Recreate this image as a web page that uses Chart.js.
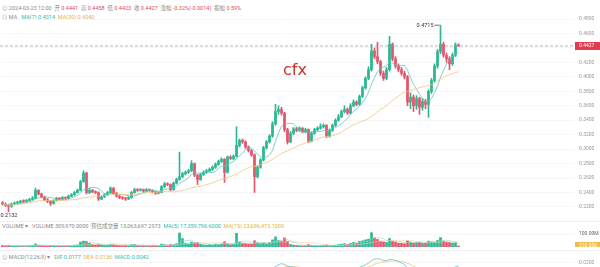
<!DOCTYPE html>
<html>
<head>
<meta charset="utf-8">
<script src="https://cdn.jsdelivr.net/npm/chart.js@4.4.1/dist/chart.umd.min.js"></script>
<style>
  body { margin: 0; width: 600px; height: 267px; overflow: hidden; background: #fff; position: relative;
         font-family: Roboto, "Noto Sans CJK SC", sans-serif; }
  canvas { position: absolute; left: 0; }
  .txt { position: absolute; font-size: 5.5px; color: #8a8a8a; white-space: nowrap; line-height: 6px; }
  .red { color: #e0475b; }
  .teal { color: #33b8a8; }
  .yel { color: #e8b23a; }
  .sep { position: absolute; left: 0; width: 600px; border-top: 1px solid #eeeeee; }
  #mark { position: absolute; left: 283px; top: 60px; font-size: 16px; color: #c9302c; font-family: "DejaVu Sans", sans-serif; }
</style>
</head>
<body>
<div class="txt" style="left:2px;top:5px">⊙ 2024-03-23 12:00 &nbsp;开 <span class="red">0.4441</span> &nbsp;高 <span class="red">0.4458</span> &nbsp;低 <span class="red">0.4423</span> &nbsp;收 <span class="red">0.4427</span> &nbsp;涨幅 <span class="red">-0.32%(-0.0014)</span> &nbsp;振幅 <span class="red">0.59%</span></div>
<div class="txt" style="left:2px;top:14px">⊙ MA &nbsp; <span class="teal">MA(7) 0.4314</span> &nbsp;<span class="yel">MA(30) 0.4040</span></div>

<canvas id="price" width="600" height="210" style="top:10px"></canvas>
<div id="mark">cfx</div>
<div class="sep" style="top:221px"></div>
<div class="txt" style="left:2px;top:223px">VOLUME ▾ &nbsp; VOLUME 309,970.0000 &nbsp;预估成交量 13,063,697.2973 &nbsp;<span class="teal">MA(5) 17,359,796.6000</span> &nbsp;<span class="yel">MA(15) 23,696,473.1000</span></div>
<canvas id="vol" width="600" height="18" style="top:229px"></canvas>
<div class="sep" style="top:250px"></div>
<div class="txt" style="left:2px;top:254px">⊙ MACD(12,26,9) ▾ &nbsp; <span class="teal">DIF 0.0177</span> &nbsp;<span class="yel">DEA 0.0136</span> &nbsp;<span class="teal">MACD 0.0042</span></div>
<canvas id="macd" width="600" height="30" style="top:256px"></canvas>

<script>
// candles, oldest first; open of each candle = previous close
const firstOpen = 0.2260;
const closes = [
  0.2240, 0.2225, 0.2210, 0.2240, 0.2255, 0.2262, 0.2280, 0.2275, 0.2290, 0.2305,
  0.2320, 0.2430, 0.2380, 0.2340, 0.2300, 0.2280, 0.2250, 0.2290, 0.2320, 0.2310,
  0.2330, 0.2320, 0.2350, 0.2370, 0.2400, 0.2430, 0.2550, 0.2670, 0.2400, 0.2430,
  0.2410, 0.2400, 0.2310, 0.2340, 0.2370, 0.2400, 0.2460, 0.2390, 0.2350, 0.2330,
  0.2320, 0.2310, 0.2330, 0.2400, 0.2440, 0.2430, 0.2440, 0.2420, 0.2440, 0.2430,
  0.2410, 0.2390, 0.2400, 0.2480, 0.2520, 0.2510, 0.2440, 0.2530, 0.2580, 0.2620,
  0.2660, 0.2680, 0.2700, 0.2800, 0.2640, 0.2580, 0.2650, 0.2680, 0.2700, 0.2720,
  0.2750, 0.2790, 0.2830, 0.2860, 0.2680, 0.2890, 0.2870, 0.2900, 0.3050, 0.3120,
  0.3100, 0.3030, 0.2980, 0.2920, 0.2620, 0.2750, 0.2850, 0.3020, 0.3100, 0.3180,
  0.3350, 0.3520, 0.3550, 0.3500, 0.3270, 0.3100, 0.3220, 0.3280, 0.3260, 0.3290,
  0.3240, 0.3270, 0.3110, 0.3220, 0.3270, 0.3290, 0.3310, 0.3330, 0.3180, 0.3260,
  0.3330, 0.3400, 0.3450, 0.3520, 0.3550, 0.3500, 0.3600, 0.3650, 0.3620, 0.3730,
  0.3850, 0.3980, 0.4100, 0.4360, 0.4280, 0.4210, 0.4050, 0.3980, 0.4100, 0.4450,
  0.4250, 0.4150, 0.4100, 0.4050, 0.4000, 0.3650, 0.3720, 0.3600, 0.3700, 0.3580,
  0.3660, 0.3620, 0.3800, 0.3950, 0.4150, 0.4350, 0.4450, 0.4300, 0.4250, 0.4180,
  0.4300, 0.4441, 0.4427
];
const highs = [
  0.2275, 0.2255, 0.2240, 0.2255, 0.2270, 0.2280, 0.2295, 0.2300, 0.2305, 0.2320,
  0.2345, 0.2460, 0.2440, 0.2390, 0.2350, 0.2315, 0.2290, 0.2300, 0.2335, 0.2330,
  0.2345, 0.2340, 0.2365, 0.2385, 0.2415, 0.2450, 0.2570, 0.2700, 0.2680, 0.2460,
  0.2445, 0.2425, 0.2410, 0.2355, 0.2385, 0.2415, 0.2480, 0.2470, 0.2400, 0.2360,
  0.2345, 0.2335, 0.2345, 0.2415, 0.2460, 0.2455, 0.2455, 0.2450, 0.2455, 0.2450,
  0.2440, 0.2420, 0.2415, 0.2495, 0.2540, 0.2535, 0.2520, 0.2545, 0.2600, 0.2960,
  0.2680, 0.2700, 0.2720, 0.2840, 0.2810, 0.2650, 0.2665, 0.2700, 0.2720, 0.2740,
  0.2770, 0.2810, 0.2850, 0.2880, 0.2870, 0.2905, 0.2910, 0.2920, 0.3310, 0.3140,
  0.3140, 0.3115, 0.3045, 0.2995, 0.2935, 0.2770, 0.2870, 0.3040, 0.3120, 0.3200,
  0.3380, 0.3620, 0.3600, 0.3580, 0.3510, 0.3290, 0.3245, 0.3300, 0.3300, 0.3310,
  0.3300, 0.3290, 0.3280, 0.3240, 0.3290, 0.3310, 0.3350, 0.3350, 0.3340, 0.3280,
  0.3350, 0.3420, 0.3480, 0.3540, 0.3600, 0.3570, 0.3630, 0.3680, 0.3670, 0.3750,
  0.3870, 0.4000, 0.4140, 0.4450, 0.4400, 0.4480, 0.4230, 0.4080, 0.4130, 0.4560,
  0.4470, 0.4280, 0.4180, 0.4130, 0.4080, 0.4020, 0.3780, 0.3750, 0.3740, 0.3720,
  0.3700, 0.3690, 0.3820, 0.3980, 0.4180, 0.4380, 0.4715, 0.4480, 0.4330, 0.4280,
  0.4330, 0.4470, 0.4458
];
const lows = [
  0.2225, 0.2205, 0.2132, 0.2195, 0.2230, 0.2240, 0.2250, 0.2260, 0.2265, 0.2280,
  0.2295, 0.2315, 0.2365, 0.2325, 0.2285, 0.2260, 0.2220, 0.2240, 0.2280, 0.2295,
  0.2300, 0.2305, 0.2310, 0.2340, 0.2360, 0.2390, 0.2420, 0.2540, 0.2380, 0.2385,
  0.2395, 0.2385, 0.2290, 0.2300, 0.2330, 0.2360, 0.2390, 0.2375, 0.2335, 0.2315,
  0.2305, 0.2290, 0.2300, 0.2320, 0.2390, 0.2415, 0.2420, 0.2405, 0.2410, 0.2415,
  0.2395, 0.2375, 0.2380, 0.2395, 0.2470, 0.2495, 0.2425, 0.2430, 0.2520, 0.2570,
  0.2605, 0.2645, 0.2665, 0.2690, 0.2620, 0.2510, 0.2570, 0.2635, 0.2665, 0.2685,
  0.2705, 0.2735, 0.2775, 0.2815, 0.2540, 0.2670, 0.2855, 0.2855, 0.2890, 0.3030,
  0.3080, 0.3010, 0.2960, 0.2900, 0.2400, 0.2600, 0.2735, 0.2835, 0.3000, 0.3085,
  0.3165, 0.3330, 0.3480, 0.3470, 0.3240, 0.3070, 0.3090, 0.3200, 0.3240, 0.3245,
  0.3225, 0.3225, 0.3090, 0.3100, 0.3205, 0.3255, 0.3275, 0.3290, 0.3160, 0.3165,
  0.3245, 0.3315, 0.3385, 0.3435, 0.3500, 0.3480, 0.3485, 0.3585, 0.3600, 0.3605,
  0.3715, 0.3830, 0.3960, 0.4080, 0.4250, 0.4180, 0.4020, 0.3950, 0.3960, 0.4080,
  0.4220, 0.4120, 0.4070, 0.4020, 0.3970, 0.3600, 0.3560, 0.3520, 0.3550, 0.3480,
  0.3540, 0.3560, 0.3440, 0.3770, 0.3930, 0.4120, 0.4320, 0.4270, 0.4200, 0.4100,
  0.4160, 0.4280, 0.4423
];
// volume per candle, millions
const volumes = [
  12, 9, 14, 8, 7, 9, 8, 10, 9, 11,
  13, 24, 14, 12, 10, 9, 13, 11, 9, 8,
  10, 9, 12, 11, 14, 16, 38, 45, 42, 28,
  20, 16, 22, 14, 12, 13, 20, 18, 13, 11,
  10, 12, 10, 18, 20, 12, 10, 11, 9, 10,
  12, 13, 10, 22, 18, 12, 20, 16, 25, 108,
  65, 30, 24, 38, 32, 35, 20, 16, 14, 18,
  15, 22, 20, 24, 40, 25, 18, 22, 105, 38,
  30, 28, 24, 22, 48, 34, 26, 30, 24, 35,
  55, 78, 50, 45, 70, 45, 20, 14, 12, 10,
  9, 11, 18, 12, 10, 9, 10, 11, 16, 10,
  12, 14, 18, 22, 26, 20, 28, 35, 30, 42,
  48, 55, 60, 110, 70, 58, 45, 40, 35, 65,
  45, 38, 30, 28, 25, 48, 38, 30, 34, 36,
  28, 30, 45, 40, 38, 50, 72, 45, 38, 35,
  30, 34, 0.31
];
const priceTicks = [0.48, 0.46, 0.44, 0.42, 0.40, 0.38, 0.36, 0.34, 0.32, 0.30, 0.28, 0.26, 0.24, 0.22];
const volTicks = [100];
const macdTicks = [0.02];
const SLOTS = 191; // candles plus empty space on the right

const UP = '#2bb792', DOWN = '#e5566c';
const opens = closes.map((c, i) => i ? closes[i - 1] : firstOpen);
const colors = closes.map((c, i) => c >= opens[i] ? UP : DOWN);
const labels = Array.from({ length: SLOTS }, (_, i) => String(i));

// moving averages over whatever history is available
const sma = (arr, n) => arr.map((_, i) => {
  const s = arr.slice(Math.max(0, i - n + 1), i + 1);
  return s.reduce((a, b) => a + b, 0) / s.length;
});
const ema = (arr, n) => {
  const k = 2 / (n + 1); let prev = arr[0];
  return arr.map(v => (prev = v * k + prev * (1 - k)));
};
const ema12 = ema(closes, 12), ema26 = ema(closes, 26);
const dif = closes.map((_, i) => ema12[i] - ema26[i]);
const dea = ema(dif, 9);
const hist = dif.map((d, i) => d - dea[i]);

const tickFont = { size: 5, family: 'Roboto' };
const volFmt = v => v.toFixed(2) + 'M';
const xAxis = { type: 'category', display: false, offset: true, grid: { display: false } };
const rightAxis = (min, max, ticks, fmt) => ({
  position: 'right', min, max,
  // fixed axis width, and no extra vertical padding for the tick labels
  afterFit: s => { s.width = 26; s.paddingTop = 0; s.paddingBottom = 0; },
  afterBuildTicks: s => { s.ticks = ticks.map(v => ({ value: v })); },
  grid: { color: '#f6f6f6', drawTicks: false },
  border: { display: false },
  ticks: { color: '#9a9a9a', font: tickFont, padding: 5, autoSkip: false, callback: fmt }
});
const base = {
  responsive: false, animation: false,
  layout: { padding: { left: 1, right: 0, top: 0, bottom: 0 } },
  plugins: { legend: { display: false }, tooltip: { enabled: false } }
};

const tag = (ctx, text, y, bg, fg) => {
  ctx.save();
  ctx.fillStyle = bg;
  ctx.fillRect(575, Math.round(y) - 4, 25, 8);
  ctx.fillStyle = fg;
  ctx.font = '5px Roboto';
  ctx.textBaseline = 'middle';
  ctx.fillText(text, 579, Math.round(y));
  ctx.restore();
};

const priceMarks = {
  id: 'priceMarks',
  afterDatasetsDraw(chart) {
    const { ctx, chartArea, scales: { x, y } } = chart;
    const last = closes[closes.length - 1];
    const ly = y.getPixelForValue(last);
    ctx.save();
    ctx.strokeStyle = '#9a9a9a'; ctx.lineWidth = 0.7; ctx.setLineDash([3, 2]);
    ctx.beginPath(); ctx.moveTo(0, ly); ctx.lineTo(chartArea.right, ly); ctx.stroke();
    ctx.setLineDash([]);
    // highest high / lowest low
    const hi = Math.max(...highs), hiI = highs.indexOf(hi);
    const lo = Math.min(...lows), loI = lows.indexOf(lo);
    ctx.font = '5.5px Roboto'; ctx.fillStyle = '#333'; ctx.strokeStyle = '#333';
    const hx = x.getPixelForValue(hiI), hy = y.getPixelForValue(hi);
    ctx.beginPath(); ctx.moveTo(hx - 1, hy); ctx.lineTo(hx - 6, hy); ctx.stroke();
    ctx.textAlign = 'right'; ctx.textBaseline = 'middle';
    ctx.fillText(hi.toFixed(4), hx - 7, hy);
    const lx = x.getPixelForValue(loI), lyy = y.getPixelForValue(lo);
    ctx.textAlign = 'left'; ctx.textBaseline = 'top';
    ctx.fillText(lo.toFixed(4), Math.max(0, lx - 8), lyy + 1);
    ctx.restore();
    tag(ctx, last.toFixed(4), ly, '#e23c50', '#fff');
  }
};

new Chart(document.getElementById('price'), {
  data: {
    labels,
    datasets: [
      { type: 'bar', data: lows.map((l, i) => [l, highs[i]]), backgroundColor: colors,
        barThickness: 1, grouped: false, order: 3 },
      { type: 'bar', data: closes.map((c, i) => [Math.min(c, opens[i]), Math.max(c, opens[i])]),
        backgroundColor: colors, barThickness: 2, minBarLength: 1, grouped: false, order: 2 },
      { type: 'line', data: sma(closes, 7), borderColor: '#5cc6bd', borderWidth: 0.8,
        pointRadius: 0, order: 1 },
      { type: 'line', data: sma(closes, 30), borderColor: '#f1c47e', borderWidth: 0.8,
        pointRadius: 0, order: 0 }
    ]
  },
  options: { ...base, scales: { x: xAxis, y: rightAxis(0.2020, 0.4925, priceTicks, v => v.toFixed(4)) } },
  plugins: [priceMarks]
});

new Chart(document.getElementById('vol'), {
  data: {
    labels,
    datasets: [
      { type: 'line', data: sma(volumes, 5), borderColor: '#8fd8d0', borderWidth: 0.6, pointRadius: 0, order: 0 },
      { type: 'line', data: sma(volumes, 15), borderColor: '#f3d49a', borderWidth: 0.6, pointRadius: 0, order: 0 },
      { type: 'bar', data: volumes, backgroundColor: colors, barThickness: 2, minBarLength: 1, order: 1 }
    ]
  },
  options: { ...base, scales: { x: xAxis, y: rightAxis(0, 138.5, volTicks, volFmt) } },
  plugins: [{
    id: 'volTag',
    afterDraw(chart) {
      const { ctx, scales: { y } } = chart;
      // the 18px pane is too short for the axis to place its own label reliably
      ctx.save();
      ctx.fillStyle = '#9a9a9a'; ctx.font = '5px Roboto'; ctx.textBaseline = 'middle';
      volTicks.forEach(t => ctx.fillText(volFmt(t), 579, y.getPixelForValue(t)));
      ctx.restore();
      const v = volumes[volumes.length - 1];
      tag(ctx, (v * 1000).toFixed(2) + 'K', y.getPixelForValue(v) - 1, '#f0bd45', '#fff');
    }
  }]
});

new Chart(document.getElementById('macd'), {
  data: {
    labels,
    datasets: [
      { type: 'line', data: dif, borderColor: '#5cc6bd', borderWidth: 0.8, pointRadius: 0 },
      { type: 'line', data: dea, borderColor: '#f1c47e', borderWidth: 0.8, pointRadius: 0 },
      { type: 'bar', data: hist, backgroundColor: hist.map(h => h >= 0 ? UP : DOWN), barThickness: 2 }
    ]
  },
  options: { ...base, scales: { x: xAxis, y: rightAxis(-0.0129, 0.03, macdTicks, v => v.toFixed(4)) } }
});
</script>
</body>
</html>
